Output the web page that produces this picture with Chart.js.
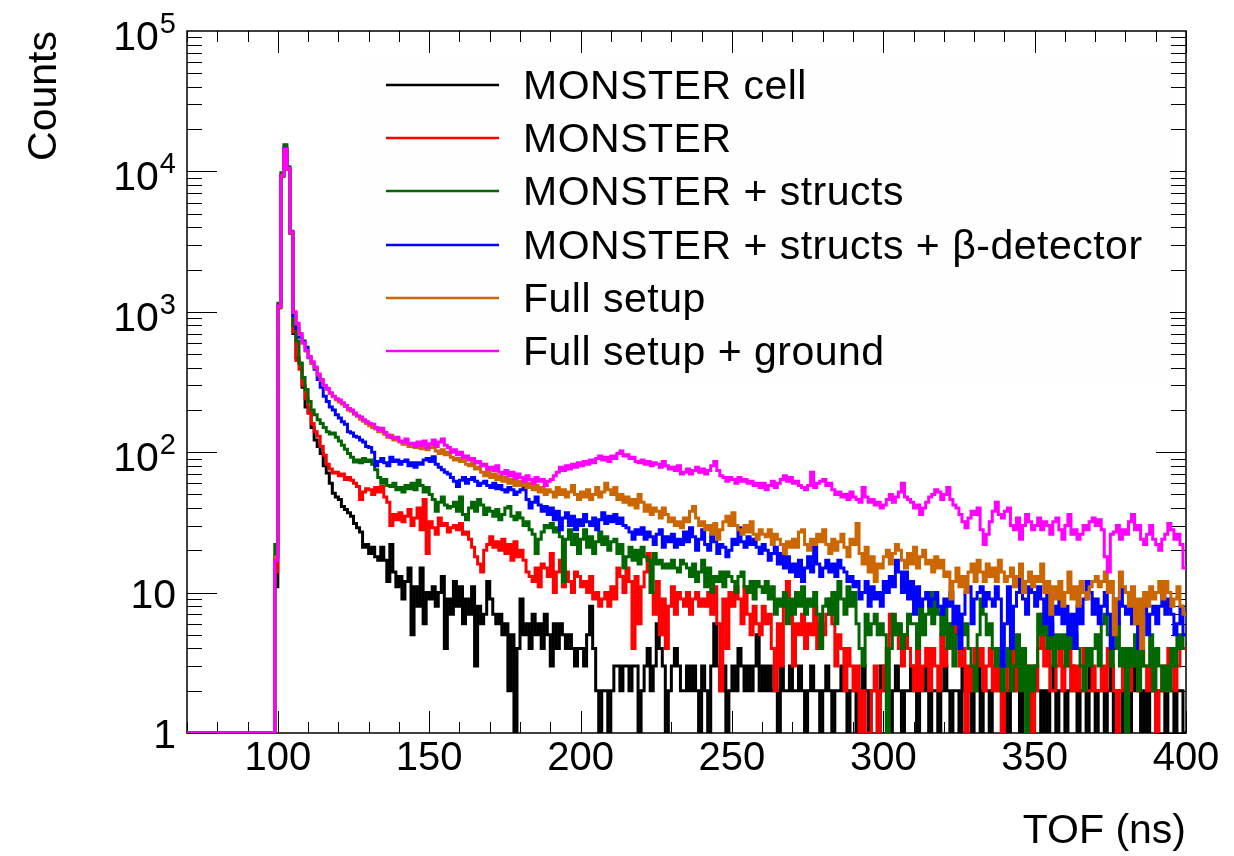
<!DOCTYPE html>
<html>
<head>
    <title>TOF spectra</title>
    <style>
        body { margin: 0; background: #fff; }
    </style>
</head>
<body>
    <canvas id="tofChart" width="1234" height="856"></canvas>

<script src="https://cdn.jsdelivr.net/npm/chart.js@4.4.0/dist/chart.umd.min.js"></script>
<script>
    // histogram binning (ns), bins below firstBin are empty
    const xMin = 70;
    const xMax = 400;
    const firstBin = 99;
    const binWidth = 1;
    const yMin = 1;
    const yMax = 100000;

    const xTickValues = [100, 150, 200, 250, 300, 350, 400];
    const yLabelValues = [1, 10, 100, 1000, 10000, 100000];
    const yLabelBase = ['1', '10', '10', '10', '10', '10'];
    const yLabelExp = ['', '', '2', '3', '4', '5'];

    const seriesLabels = [
        'MONSTER cell',
        'MONSTER',
        'MONSTER + structs',
        'MONSTER + structs + \u03B2-detector',
        'Full setup',
        'Full setup + ground'
    ];
    const seriesColors = ['#000000', '#ff0000', '#006600', '#0000ff', '#cc6600', '#ff00ff'];

    // counts per 1 ns bin, starting at 99 ns
    const monsterCell = [11,
        1070, 9250, 14300, 10350, 3620, 700, 470, 430, 290, 210,
        190, 150, 122, 110, 98, 80, 71, 60, 51, 48,
        46, 41, 39, 37, 35, 31, 29, 27, 21, 22,
        19, 21, 18, 17, 21, 17, 12, 22, 14, 11,
        13, 9, 12, 15, 5, 11, 8, 15, 6, 10,
        9, 11, 8, 10, 13, 4, 9, 7, 12, 8,
        11, 6, 9, 7, 11, 3, 8, 6, 7, 12,
        9, 7, 6, 7, 5, 6, 2, 5, 0, 4,
        9, 5, 6, 4, 7, 5, 6, 4, 7, 5,
        3, 6, 4, 6, 5, 4, 5, 4, 3, 4,
        4, 3, 5, 8, 4, 2, 0, 2, 2, 0,
        2, 3, 3, 2, 3, 3, 2, 3, 3, 0,
        2, 3, 4, 2, 3, 6, 4, 3, 0, 2,
        3, 4, 3, 2, 2, 3, 2, 3, 2, 0,
        3, 2, 0, 3, 6, 3, 2, 3, 0, 2,
        3, 2, 4, 3, 2, 3, 2, 3, 5, 2,
        3, 2, 3, 2, 2, 0, 3, 2, 2, 3,
        2, 2, 3, 2, 0, 2, 3, 2, 2, 0,
        2, 3, 2, 0, 2, 2, 3, 2, 0, 2,
        2, 0, 2, 3, 2, 0, 2, 2, 0, 3,
        2, 2, 0, 2, 3, 2, 0, 2, 2, 3,
        2, 0, 2, 2, 3, 0, 2, 2, 0, 2,
        3, 2, 0, 2, 2, 0, 3, 2, 2, 0,
        2, 3, 0, 2, 2, 0, 2, 3, 2, 0,
        2, 0, 2, 3, 2, 0, 4, 2, 0, 2,
        3, 2, 0, 2, 0, 2, 3, 0, 2, 2,
        0, 2, 3, 2, 0, 2, 2, 0, 3, 2,
        0, 2, 2, 0, 2, 3, 0, 2, 2, 0,
        2, 0, 3, 2, 2, 0, 2, 0, 2, 3,
        0, 2, 2, 0, 3, 2, 0, 2, 2, 0];

    const monster = [14,
        1080, 9300, 14400, 10400, 3650, 720, 450, 390, 300, 240,
        190, 160, 140, 130, 110, 95, 82, 76, 71, 72,
        68, 70, 64, 66, 63, 60, 57, 46, 52, 55,
        54, 50, 56, 52, 57, 48, 44, 30, 36, 33,
        37, 32, 35, 39, 30, 34, 40, 28, 46, 19,
        32, 29, 26, 34, 30, 31, 27, 29, 30, 28,
        31, 26, 27, 24, 21, 18, 16, 14, 20, 22,
        25, 21, 23, 20, 24, 19, 22, 17, 23, 18,
        20, 17, 14, 13, 12, 15, 11, 16, 15, 13,
        19, 10, 14, 17, 11, 14, 12, 10, 14, 13,
        11, 12, 10, 13, 9, 10, 8, 9, 10, 8,
        11, 9, 15, 13, 10, 15, 12, 4, 13, 6,
        11, 14, 19, 10, 7, 12, 5, 9, 4, 8,
        11, 7, 10, 9, 8, 10, 7, 9, 10, 8,
        9, 8, 10, 7, 11, 6, 2, 9, 4, 10,
        8, 11, 9, 6, 11, 7, 5, 8, 6, 5,
        8, 6, 7, 4, 2, 6, 3, 9, 12, 7,
        3, 6, 5, 7, 4, 6, 5, 8, 4, 6,
        5, 7, 9, 6, 3, 5, 4, 2, 4, 3,
        2, 3, 0, 2, 1, 0, 2, 3, 0, 2,
        3, 4, 7, 5, 6, 4, 3, 5, 4, 3,
        2, 5, 2, 3, 4, 2, 4, 3, 2, 5,
        3, 4, 6, 5, 7, 3, 4, 0, 3, 2,
        4, 3, 4, 2, 3, 4, 2, 3, 2, 0,
        2, 3, 4, 3, 2, 4, 3, 2, 3, 0,
        2, 4, 7, 3, 4, 2, 2, 3, 4, 2,
        3, 4, 2, 3, 2, 3, 4, 2, 2, 3,
        2, 2, 3, 2, 4, 3, 2, 0, 2, 3,
        4, 2, 3, 3, 2, 4, 3, 2, 3, 2,
        0, 2, 3, 2, 4, 3, 2, 3, 4, 4];

    const monsterStructs = [22,
        1150, 9800, 15500, 10800, 3750, 800, 620, 430, 340, 280,
        230, 200, 185, 170, 160, 150, 140, 135, 137, 128,
        120, 112, 105, 98, 92, 85, 88, 84, 90, 86,
        88, 82, 75, 66, 60, 64, 58, 57, 60, 54,
        56, 52, 58, 55, 60, 54, 63, 58, 52, 56,
        50, 46, 38, 44, 48, 42, 40, 41, 44, 38,
        48, 36, 33, 40, 44, 38, 46, 42, 36, 40,
        38, 35, 39, 33, 36, 40, 41, 35, 33, 37,
        34, 30, 32, 28, 26, 19, 24, 27, 30, 29,
        31, 27, 29, 25, 12, 24, 28, 22, 26, 19,
        24, 28, 21, 25, 19, 23, 27, 22, 25, 20,
        23, 24, 19, 22, 15, 18, 21, 17, 20, 16,
        21, 18, 17, 10, 19, 16, 17, 15, 16, 15,
        17, 15, 14, 17, 16, 15, 13, 16, 12, 14,
        17, 11, 15, 10, 13, 12, 14, 11, 14, 13,
        12, 10, 13, 14, 11, 10, 12, 9, 12, 11,
        10, 12, 9, 11, 7, 9, 8, 10, 6, 9,
        7, 10, 8, 11, 7, 9, 8, 10, 7, 4,
        8, 9, 7, 10, 6, 12, 9, 7, 11, 8,
        10, 6, 4, 3, 7, 5, 6, 7, 5, 6,
        5, 0, 4, 7, 5, 6, 4, 5, 7, 6,
        6, 4, 8, 5, 7, 10, 6, 9, 7, 5,
        8, 4, 6, 3, 5, 7, 5, 6, 4, 3,
        2, 5, 9, 7, 5, 6, 4, 3, 4, 2,
        3, 4, 2, 3, 5, 2, 4, 0, 3, 2,
        3, 7, 5, 7, 4, 6, 3, 5, 4, 5,
        3, 6, 4, 5, 4, 3, 2, 4, 3, 4,
        5, 3, 6, 7, 5, 3, 4, 6, 3, 4,
        0, 4, 3, 5, 2, 4, 3, 3, 5, 2,
        4, 3, 2, 3, 2, 4, 3, 5, 4, 5];

    const monsterStructsBeta = [18,
        1090, 9350, 14600, 10450, 3680, 940, 760, 660, 620, 560,
        470, 430, 390, 330, 290, 250, 230, 210, 200, 185,
        175, 165, 158, 140, 137, 130, 128, 122, 118, 110,
        108, 100, 80, 86, 90, 84, 80, 92, 86, 88,
        82, 86, 88, 80, 84, 78, 84, 82, 88, 90,
        86, 93, 82, 78, 75, 72, 70, 66, 62, 57,
        63, 66, 60, 64, 66, 62, 58, 60, 62, 58,
        56, 60, 55, 58, 54, 52, 56, 54, 50, 52,
        54, 57, 46, 40, 44, 48, 42, 38, 41, 36,
        40, 33, 38, 28, 34, 37, 30, 35, 28, 33,
        30, 36, 32, 30, 34, 28, 33, 37, 31, 35,
        32, 36, 31, 34, 30, 29, 27, 24, 28, 26,
        29, 24, 27, 25, 22, 26, 28, 21, 25, 23,
        26, 21, 24, 22, 27, 23, 29, 25, 20, 24,
        28, 22, 20, 26, 23, 19, 22, 21, 18, 20,
        24, 22, 29, 23, 21, 25, 22, 24, 21, 19,
        22, 20, 17, 19, 21, 16, 19, 15, 18, 14,
        16, 13, 17, 12, 15, 18, 14, 21, 16, 13,
        15, 17, 14, 16, 13, 17, 15, 14, 12, 13,
        11, 12, 9, 10, 12, 8, 11, 9, 10, 8,
        12, 10, 13, 11, 17, 14, 10, 14, 9, 12,
        7, 11, 8, 9, 10, 8, 9, 10, 8, 7,
        9, 8, 10, 6, 8, 4, 7, 10, 11, 6,
        9, 10, 11, 8, 10, 9, 8, 11, 9, 3,
        6, 11, 4, 8, 10, 13, 9, 7, 11, 10,
        8, 11, 9, 6, 10, 5, 8, 7, 9, 6,
        8, 5, 7, 4, 8, 6, 9, 12, 10, 7,
        9, 6, 8, 10, 7, 4, 9, 6, 11, 8,
        7, 9, 6, 8, 4, 7, 9, 5, 7, 8,
        6, 8, 11, 7, 9, 7, 5, 6, 8, 5];

    const fullSetup = [18,
        1080, 9300, 14300, 10400, 3650, 990, 820, 690, 600, 525,
        475, 430, 400, 355, 325, 298, 280, 262, 248, 236,
        228, 220, 212, 200, 196, 186, 180, 172, 166, 160,
        154, 150, 146, 140, 142, 134, 128, 132, 122, 125,
        118, 114, 120, 110, 112, 108, 114, 106, 110, 104,
        108, 112, 102, 98, 104, 96, 100, 92, 88, 90,
        86, 90, 82, 80, 84, 76, 78, 72, 68, 74,
        66, 70, 64, 68, 62, 66, 60, 64, 58, 62,
        58, 62, 56, 60, 54, 58, 52, 56, 50, 54,
        52, 48, 56, 50, 54, 48, 52, 58, 50, 46,
        52, 48, 54, 46, 50, 56, 48, 52, 60, 54,
        50, 56, 46, 50, 44, 48, 42, 46, 40, 50,
        44, 38, 42, 36, 40, 38, 34, 40, 36, 32,
        34, 30, 32, 29, 34, 32, 38, 41, 34, 30,
        32, 28, 30, 26, 31, 24, 28, 32, 35, 30,
        37, 30, 28, 26, 30, 27, 32, 26, 24, 28,
        26, 25, 28, 22, 26, 24, 22, 19, 23, 21,
        24, 21, 27, 28, 22, 20, 24, 22, 26, 23,
        28, 22, 19, 24, 20, 23, 26, 21, 18, 24,
        22, 31, 19, 16, 21, 14, 18, 12, 16, 15,
        18, 20, 16, 19, 22, 20, 17, 15, 19, 16,
        21, 15, 18, 20, 16, 17, 14, 18, 15, 17,
        13, 14, 9, 12, 15, 11, 13, 10, 14, 16,
        12, 17, 14, 12, 16, 13, 15, 12, 17, 14,
        12, 13, 15, 11, 13, 16, 10, 12, 14, 11,
        13, 12, 16, 10, 12, 7, 11, 9, 12, 8,
        10, 14, 9, 11, 8, 12, 10, 9, 11, 12,
        13, 11, 12, 14, 10, 12, 5, 9, 14, 11,
        10, 8, 11, 6, 9, 4, 10, 8, 11, 9,
        10, 12, 9, 12, 10, 8, 9, 11, 8, 7];

    const fullSetupGround = [17,
        1100, 9400, 14500, 10500, 3700, 1000, 830, 700, 600, 530,
        480, 440, 405, 360, 330, 300, 285, 265, 250, 240,
        235, 225, 215, 205, 200, 190, 182, 178, 170, 165,
        160, 158, 150, 145, 148, 138, 132, 128, 125, 128,
        120, 118, 124, 115, 116, 110, 118, 112, 120, 108,
        115, 122, 110, 118, 124, 112, 108, 100, 104, 96,
        100, 92, 94, 88, 90, 84, 86, 80, 82, 76,
        78, 74, 80, 72, 70, 74, 68, 72, 65, 70,
        66, 62, 68, 64, 60, 66, 62, 64, 58, 62,
        64, 68, 72, 78, 74, 80, 76, 82, 78, 84,
        80, 86, 82, 88, 84, 90, 94, 88, 92, 86,
        94, 90, 98, 102, 94, 96, 90, 92, 86, 84,
        88, 82, 86, 80, 84, 82, 78, 86, 80, 76,
        78, 74, 80, 70, 72, 76, 70, 74, 78, 72,
        76, 70, 74, 80, 86, 74, 68, 66, 62, 66,
        64, 60, 66, 62, 64, 60, 62, 58, 60, 56,
        60, 54, 58, 62, 56, 60, 64, 68, 62, 66,
        60, 62, 58, 56, 54, 58, 72, 56, 60, 62,
        64, 58, 60, 54, 50, 52, 48, 50, 46, 52,
        48, 46, 44, 56, 48, 44, 46, 42, 44, 40,
        42, 46, 50, 44, 48, 52, 60, 48, 46, 44,
        40, 42, 36, 40, 44, 48, 50, 54, 52, 46,
        50, 56, 46, 42, 40, 36, 32, 29, 34, 38,
        36, 40, 28, 22, 26, 32, 38, 44, 36, 34,
        38, 40, 30, 28, 34, 24, 30, 36, 32, 28,
        30, 34, 28, 32, 30, 26, 32, 34, 28, 24,
        30, 36, 26, 28, 24, 26, 30, 28, 32, 34,
        30, 33, 28, 18, 14, 26, 27, 30, 24, 28,
        26, 32, 36, 28, 30, 24, 22, 26, 30, 24,
        22, 20, 24, 26, 31, 28, 24, 26, 22, 15];

    const allSeries = [monsterCell, monster, monsterStructs, monsterStructsBeta, fullSetup, fullSetupGround];

    const fontFamily = "'Liberation Sans', Arial, Helvetica, sans-serif";

    // turn bin counts into step outline points (empty bins sit on the floor)
    function histPoints(counts) {
        const pts = [{ x: xMin, y: yMin }, { x: firstBin, y: yMin }];
        for (let i = 0; i < counts.length; i++) {
            const lo = firstBin + i * binWidth;
            const y = Math.max(counts[i], yMin);
            pts.push({ x: lo, y: y });
            pts.push({ x: lo + binWidth, y: y });
        }
        return pts;
    }

    const datasets = [];
    for (let i = 0; i < allSeries.length; i++) {
        datasets.push({
            label: seriesLabels[i],
            data: histPoints(allSeries[i]),
            borderColor: seriesColors[i],
            backgroundColor: seriesColors[i],
            borderWidth: 3,
            pointRadius: 0,
            tension: 0,
            fill: false,
            order: allSeries.length - i
        });
    }

    // ROOT style frame with inward ticks on all four sides
    const framePlugin = {
        id: 'rootFrame',
        beforeDatasetsDraw(chart) {
            const ctx = chart.ctx;
            const { left, right, top, bottom } = chart.chartArea;
            const xs = chart.scales.x;
            const ys = chart.scales.y;
            ctx.save();
            ctx.strokeStyle = '#000';
            ctx.lineWidth = 1;
            ctx.beginPath();
            for (let v = xMin; v <= xMax; v += 10) {
                const px = Math.round(xs.getPixelForValue(v)) + 0.5;
                const len = v % 50 === 0 ? 22 : 11;
                ctx.moveTo(px, bottom); ctx.lineTo(px, bottom - len);
                ctx.moveTo(px, top); ctx.lineTo(px, top + len);
            }
            for (let dec = 1; dec < yMax; dec *= 10) {
                for (let m = 1; m <= 9; m++) {
                    const py = Math.round(ys.getPixelForValue(m * dec)) + 0.5;
                    const len = m === 1 ? 30 : 15;
                    ctx.moveTo(left, py); ctx.lineTo(left + len, py);
                    ctx.moveTo(right, py); ctx.lineTo(right - len, py);
                }
            }
            ctx.stroke();
            ctx.lineWidth = 1.5;
            ctx.strokeRect(left, top, right - left, bottom - top);

            // y labels with exponents
            ctx.fillStyle = '#000';
            ctx.textAlign = 'right';
            ctx.textBaseline = 'alphabetic';
            const labelRight = 176;
            for (let i = 0; i < yLabelValues.length; i++) {
                const py = ys.getPixelForValue(yLabelValues[i]);
                if (yLabelExp[i] === '') {
                    ctx.font = '41px ' + fontFamily;
                    ctx.fillText(yLabelBase[i], labelRight, py + 15);
                } else {
                    ctx.font = '29px ' + fontFamily;
                    const w = ctx.measureText(yLabelExp[i]).width;
                    ctx.fillText(yLabelExp[i], labelRight, py + 2);
                    ctx.font = '41px ' + fontFamily;
                    ctx.fillText(yLabelBase[i], labelRight - w - 1, py + 19);
                }
            }
            ctx.restore();
        },
        afterDraw(chart) {
            const ctx = chart.ctx;
            ctx.save();
            ctx.fillStyle = '#fefefe';
            ctx.fillRect(362, 58, 808, 320);
            const rowTop = 85;
            const rowStep = 53.2;
            ctx.font = '41px ' + fontFamily;
            ctx.textAlign = 'left';
            ctx.textBaseline = 'alphabetic';
            ctx.letterSpacing = '0.5px';
            chart.data.datasets.forEach((ds, i) => {
                const y = Math.round(rowTop + i * rowStep);
                ctx.strokeStyle = ds.borderColor;
                ctx.lineWidth = 2.5;
                ctx.beginPath();
                ctx.moveTo(386, y);
                ctx.lineTo(499, y);
                ctx.stroke();
                ctx.fillStyle = '#000';
                ctx.fillText(ds.label, 523, y + 14);
            });
            ctx.restore();
        }
    };

    const ctx = document.getElementById('tofChart').getContext('2d');
    const tofChart = new Chart(ctx, {
        type: 'line',
        data: { datasets: datasets },
        options: {
            responsive: false,
            animation: false,
            devicePixelRatio: 1,
            layout: { padding: { top: 31, right: 48, bottom: 0, left: 0 } },
            plugins: {
                legend: { display: false },
                tooltip: { enabled: false }
            },
            scales: {
                x: {
                    type: 'linear',
                    min: xMin,
                    max: xMax,
                    afterBuildTicks: (s) => { s.ticks = xTickValues.map(v => ({ value: v })); },
                    afterFit: (s) => { s.height = 123; },
                    grid: { display: false, drawTicks: false },
                    border: { display: false },
                    ticks: {
                        color: '#000',
                        font: { family: fontFamily, size: 40 },
                        padding: 2,
                        maxRotation: 0,
                        autoSkip: false
                    },
                    title: {
                        display: true,
                        text: 'TOF (ns)',
                        align: 'end',
                        color: '#000',
                        font: { family: fontFamily, size: 41 },
                        padding: { top: 0, bottom: 0 }
                    }
                },
                y: {
                    type: 'logarithmic',
                    min: yMin,
                    max: yMax,
                    afterFit: (s) => { s.width = 187; },
                    grid: { display: false, drawTicks: false },
                    border: { display: false },
                    ticks: { display: false },
                    title: {
                        display: true,
                        text: 'Counts',
                        align: 'end',
                        color: '#000',
                        font: { family: fontFamily, size: 41 },
                        padding: { top: 20, bottom: 0 }
                    }
                }
            }
        },
        plugins: [framePlugin]
    });
</script>
</body>
</html>
